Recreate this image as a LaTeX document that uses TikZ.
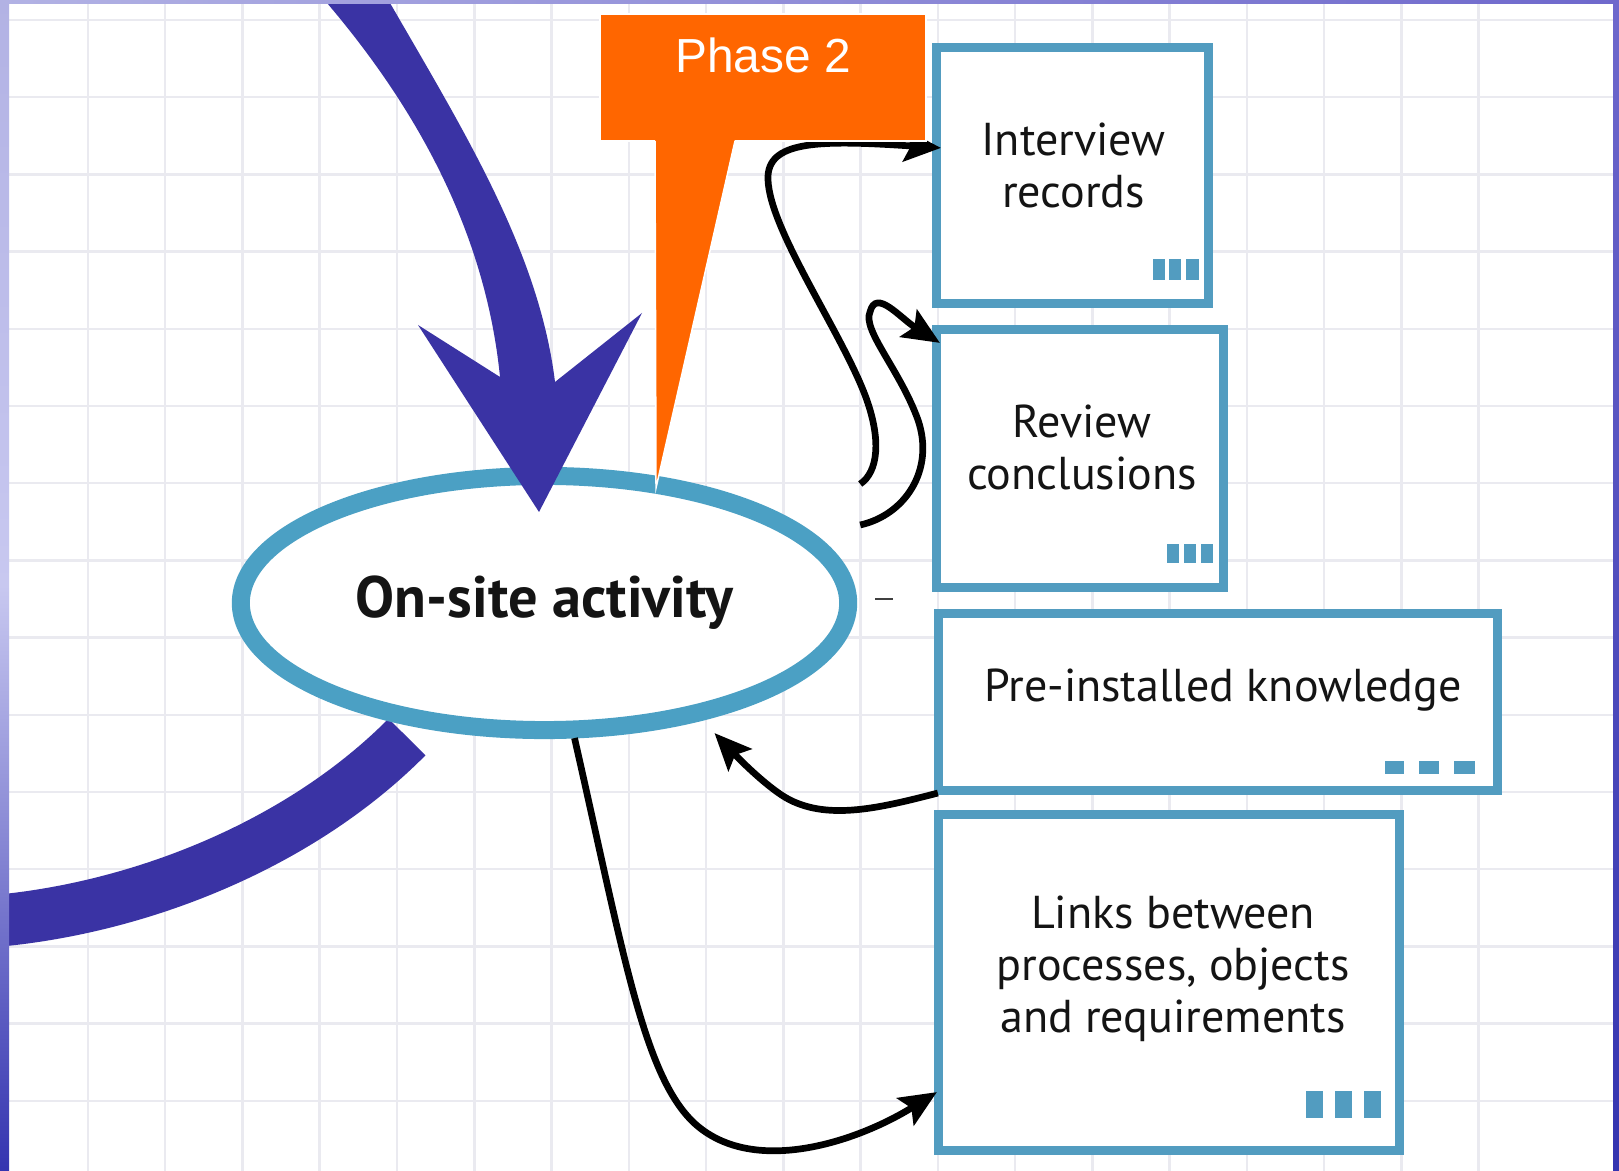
\documentclass[tikz,border=0pt]{standalone}
\usepackage{fontspec}
\setmainfont{PT Sans}
\newfontfamily\phasefont{Liberation Sans}
\usetikzlibrary{shapes.geometric,arrows.meta,calc}

\definecolor{gridgray}{RGB}{234,234,240}
\definecolor{boxblue}{RGB}{82,156,192}
\definecolor{ringblue}{RGB}{75,160,196}
\definecolor{arrowblue}{RGB}{58,51,164}
\definecolor{phaseorange}{RGB}{255,102,0}
\definecolor{textblack}{RGB}{20,20,20}
\definecolor{frameA}{RGB}{178,178,228}
\definecolor{frameB}{RGB}{200,200,240}
\definecolor{frameC}{RGB}{52,52,176}
\definecolor{frameD}{RGB}{110,104,204}

\tikzset{
  gridline/.style={draw=gridgray, line width=0.025cm},
  infobox/.style={rectangle, draw=boxblue, line width=0.09cm, fill=white, inner sep=0pt},
  boxtext/.style={font=\fontsize{13.1}{14.8}\selectfont, text=textblack, align=center, inner sep=0pt},
  conn/.style={draw=black, line width=0.067cm,
    -{Stealth[length=0.37cm,width=0.32cm,inset=0.07cm]}},
  marker/.style={fill=boxblue},
}

\begin{document}
\begin{tikzpicture}[x=0.01cm, y=-0.01cm]
\useasboundingbox (0,0) rectangle (1619,1171);
\fill[white] (0,0) rectangle (1619,1171);

% squared paper
\foreach \k in {1,...,19} \draw[gridline] ({10.7+77.26*\k},0) -- ({10.7+77.26*\k},1171);
\foreach \k in {0,...,14} \draw[gridline] (0,{20+77.2*\k}) -- (1619,{20+77.2*\k});

% incoming band from the previous phase
\draw[arrowblue, line width=0.52cm] (-5,921) .. controls (140,908) and (300,845) .. (407,737);

% central activity
\node[ellipse, draw=ringblue, line width=0.18cm, fill=white, inner sep=0pt,
      minimum width=6.07cm, minimum height=2.54cm, text=textblack,
      font=\bfseries\fontsize{16.6}{19}\selectfont] (act) at (544.5,603) {On-site activity};

% big arrow into the activity
\fill[arrowblue] (320,-5) -- (327,3) .. controls (412,103) and (485,227) .. (500,377)
  -- (418,325) -- (539,512) -- (642,313) -- (555,382)
  .. controls (539,252) and (465,133) .. (390,3) -- (385,-5) -- cycle;

% result boxes
\node[infobox, minimum width=2.72cm, minimum height=2.56cm] (ir) at (1072.5,175.5) {};
\node[infobox, minimum width=2.87cm, minimum height=2.58cm] (rc) at (1080,458.5) {};
\node[infobox, minimum width=5.59cm, minimum height=1.77cm] (pk) at (1218,702) {};
\node[infobox, minimum width=4.61cm, minimum height=3.36cm] (lk) at (1169,982.5) {};

\node[boxtext] (irt) at ($(ir.center)+(1,-10)$) {Interview\\records};
\node[boxtext] (rct) at ($(rc.center)+(2,-11)$) {Review\\conclusions};
\node[boxtext] (pkt) at ($(pk.center)+(5,-12)$) {Pre-installed knowledge};
\node[boxtext] (lkt) at ($(lk.center)+(4,-14)$) {Links between\\processes, objects\\and requirements};

% box markers
\fill[marker] (1153,259) rectangle (1165,280);
\fill[marker] (1169,259) rectangle (1181,280);
\fill[marker] (1186,259) rectangle (1199,280);
\fill[marker] (1167,544) rectangle (1179,563);
\fill[marker] (1184,544) rectangle (1196,563);
\fill[marker] (1201,544) rectangle (1213,563);
\fill[marker] (1385,761) rectangle (1404,774);
\fill[marker] (1419,761) rectangle (1439,774);
\fill[marker] (1454,761) rectangle (1475,774);
\fill[marker] (1306,1091) rectangle (1323,1118);
\fill[marker] (1335,1091) rectangle (1352,1118);
\fill[marker] (1364,1091) rectangle (1381,1118);

% small dash right of the ellipse
\draw[black!75, line width=0.02cm] (875,599) -- (893,599);

% connector ends near the ellipse
\coordinate (c1s) at ($(act.east)+(3,-119)$);
\coordinate (c2s) at ($(act.east)+(3,-78)$);
\coordinate (c3e) at ($(act.south)+(170,-6)$);
\coordinate (c4s) at ($(act.south)+(30,-1)$);

\draw[conn] (c1s) .. controls (878,472) and (882,440) .. (865,395)
  .. controls (840,330) and (770,230) .. (768,180)
  .. controls (766,140) and (820,140) .. ($(ir.north west)+(9,105)$);
\draw[conn] (c2s) .. controls (905,515) and (935,470) .. (918,420)
  .. controls (900,370) and (862,330) .. (870,312)
  .. controls (876,288) and (900,318) .. ($(rc.north west)+(8,18)$);
\draw[conn] ($(pk.south west)+(4,-2)$) .. controls (880,808) and (830,820) .. (790,800)
  .. controls (770,790) and (740,760) .. (c3e);
\draw[conn] (c4s) .. controls (625,960) and (645,1085) .. (700,1128)
  .. controls (760,1175) and (860,1140) .. ($(lk.south west)+(3,-63)$);

% phase callout
\node[rectangle, fill=phaseorange, draw=white, line width=0.015cm, inner sep=0pt,
      minimum width=3.26cm, minimum height=1.27cm] (ph) at (763,77.5) {};
\fill[phaseorange] (655,139) -- (656,488) -- (735,139) -- cycle;
\draw[white, line width=0.015cm] (655,141) -- (656,488) -- (735,141);
\node[text=white, inner sep=0pt, font=\phasefont\fontsize{13.6}{16}\selectfont] (phl) at (763,55) {Phase 2};

% slide frame
\shade[top color=frameA, bottom color=frameC, middle color=frameB] (0,0) rectangle (9,1171);
\shade[left color=frameA, right color=frameD] (0,0) rectangle (1619,4);
\shade[top color=frameD, bottom color=frameC] (1613,0) rectangle (1619,1171);
\end{tikzpicture}
\end{document}
